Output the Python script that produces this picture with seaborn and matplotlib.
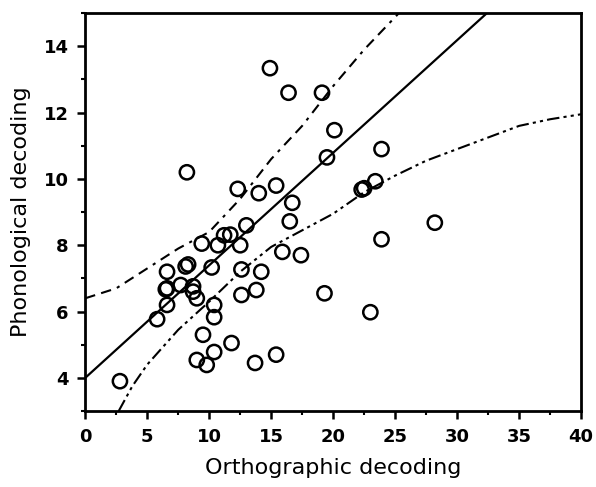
import matplotlib
matplotlib.use("Agg")
import matplotlib.pyplot as plt
import numpy as np
import pandas as pd
import seaborn as sns
from matplotlib.ticker import MultipleLocator

# scatter points
ortho = [2.8, 5.8, 6.6, 6.5, 6.6, 6.6, 7.7, 8.1, 8.3, 8.7, 8.7, 9.0, 9.4, 10.2,
         10.4, 10.4, 9.5, 9.0, 9.8, 10.4, 11.8, 10.7, 11.2, 11.7, 12.5, 13.0,
         12.6, 12.6, 13.8, 14.2, 13.7, 15.4, 15.9, 17.4, 16.5, 16.7, 19.3,
         14.9, 16.4, 19.1, 8.2, 12.3, 14.0, 15.4, 19.5, 20.1, 23.9, 22.3,
         22.5, 23.4, 28.2, 23.9, 23.0]
phono = [3.9, 5.77, 6.2, 6.67, 6.7, 7.2, 6.8, 7.36, 7.42, 6.76, 6.6, 6.4, 8.05,
         7.33, 6.2, 5.83, 5.3, 4.54, 4.39, 4.78, 5.05, 8.0, 8.3, 8.32, 8.0, 8.6,
         7.27, 6.5, 6.65, 7.2, 4.45, 4.7, 7.8, 7.7, 8.72, 9.28, 6.55,
         13.34, 12.6, 12.6, 10.2, 9.7, 9.57, 9.8, 10.65, 11.47, 10.9, 9.68,
         9.72, 9.93, 8.68, 8.18, 5.98]

# regression line and the two bands
fit_x = [0.0, 32.4]
fit_y = [4.0, 15.0]
upper_x = [0, 2.5, 5, 7.5, 10, 12.5, 15, 17.5, 20, 22.5, 25.3]
upper_y = [6.4, 6.7, 7.3, 7.9, 8.4, 9.4, 10.6, 11.6, 12.8, 13.9, 15.0]
lower_x = [2.7, 3.8, 5, 7.5, 10, 12.5, 15, 17.5, 20, 22.5, 25, 27.5, 30, 32.5, 35, 37.5, 40]
lower_y = [3.0, 3.75, 4.4, 5.45, 6.3, 7.2, 7.95, 8.45, 8.95, 9.6, 10.1, 10.55, 10.9,
           11.25, 11.6, 11.8, 11.95]

x_ticks = [0, 5, 10, 15, 20, 25, 30, 35, 40]
y_ticks = [4, 6, 8, 10, 12, 14]

sns.set_theme(style="ticks", rc={'text.color': 'black', 'axes.labelcolor': 'black',
                                 'xtick.color': 'black', 'ytick.color': 'black'})
plt.rcParams['font.family'] = ['DejaVu Sans']

fig = plt.figure(figsize=(5.96, 4.87), dpi=100)
ax = fig.add_axes([0.143, 0.156, 0.832, 0.817])

points = pd.DataFrame({'ortho': ortho, 'phono': phono})
sns.scatterplot(data=points, x='ortho', y='phono', ax=ax, s=105,
                facecolor='none', edgecolor='black', linewidth=1.8, zorder=3)

sns.lineplot(x=fit_x, y=fit_y, ax=ax, color='black', linewidth=1.6)
ax.plot(upper_x, upper_y, color='black', linewidth=1.5, dashes=(5, 3, 5, 3, 1.5, 3))
ax.plot(lower_x, lower_y, color='black', linewidth=1.5, dashes=(6, 2, 1.5, 2, 1.5, 2))

ax.set_xlim(0, 40)
ax.set_ylim(3, 15)
ax.set_xticks(x_ticks)
ax.set_yticks(y_ticks)
ax.xaxis.set_minor_locator(MultipleLocator(2.5))
ax.yaxis.set_minor_locator(MultipleLocator(1))
ax.tick_params(which='major', direction='out', length=6, width=1.8,
               labelsize=13, pad=6)
ax.tick_params(which='minor', direction='out', length=3, width=1.5)
for lab in ax.get_xticklabels() + ax.get_yticklabels():
    lab.set_fontweight('bold')
for side in ax.spines.values():
    side.set_linewidth(2)
    side.set_color('black')

ax.set_xlabel('Orthographic decoding', fontsize=16, labelpad=9)
ax.set_ylabel('Phonological decoding', fontsize=16, labelpad=9)

fig.savefig('out.png', dpi=100)
